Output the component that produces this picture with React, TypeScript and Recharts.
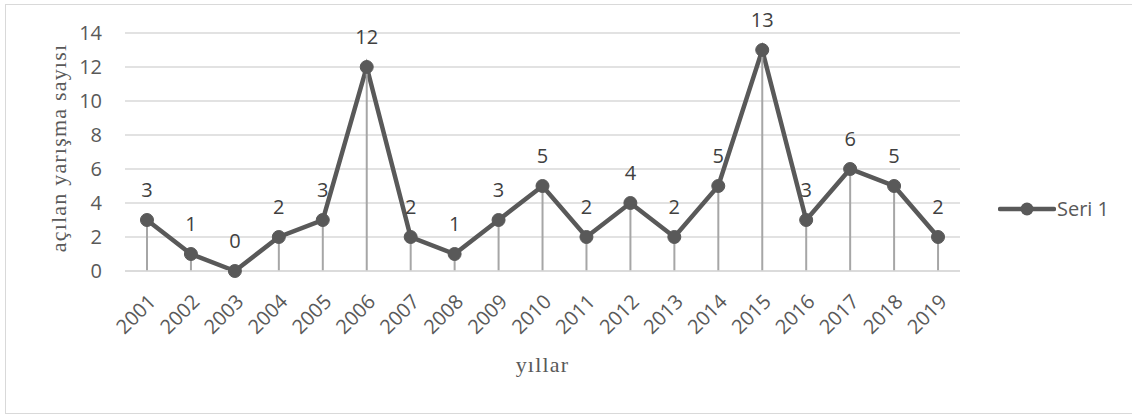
import React from 'react';
import { ComposedChart, Line, Bar, XAxis, YAxis, CartesianGrid, LabelList, Label } from 'recharts';

const years = ['2001', '2002', '2003', '2004', '2005', '2006', '2007', '2008', '2009', '2010', '2011', '2012', '2013', '2014', '2015', '2016', '2017', '2018', '2019'];
const values = [3, 1, 0, 2, 3, 12, 2, 1, 3, 5, 2, 4, 2, 5, 13, 3, 6, 5, 2];
const yTicks = [0, 2, 4, 6, 8, 10, 12, 14];
const seriesName = 'Seri 1';
const xTitle = 'yıllar';
const yTitle = 'açılan yarışma sayısı';

const data = years.map((y, i) => ({ year: y, value: values[i] }));

const SANS = '"Open Sans", sans-serif';
const SERIF = '"Liberation Serif", "Times New Roman", serif';
const TEXT = '#595959';

const XTick = (props: any) => {
  const { x, y, payload } = props;
  return (
    <g transform={`translate(${x + 10},${y + 32})`}>
      <text textAnchor="end" transform="rotate(-45)" fill={TEXT} fontSize={20} fontFamily={SANS}>
        {payload.value}
      </text>
    </g>
  );
};

const YTitle = (props: any) => {
  const vb = props.viewBox || { x: 0, y: 0, width: 0, height: 0 };
  const cx = vb.x + 58;
  const cy = vb.y + vb.height / 2 - 4;
  return (
    <text
      x={cx}
      y={cy}
      transform={`rotate(-90, ${cx}, ${cy})`}
      textAnchor="middle"
      dy="0.35em"
      fill={TEXT}
      fontSize={22}
      letterSpacing={1.2}
      fontFamily={SERIF}
    >
      {yTitle}
    </text>
  );
};

const XTitle = (props: any) => {
  const vb = props.viewBox || { x: 0, y: 0, width: 0, height: 0 };
  const cx = vb.x + vb.width / 2;
  return (
    <text x={cx} y={372} textAnchor="middle" fill={TEXT} fontSize={22} letterSpacing={1.2} fontFamily={SERIF}>
      {xTitle}
    </text>
  );
};

const LegendBox = () => (
  <div style={{ position: 'absolute', left: 998, top: 197, display: 'flex', alignItems: 'center' }}>
    <svg width={58} height={24} style={{ display: 'block' }}>
      <line x1={2} y1={12} x2={56} y2={12} stroke="#595959" strokeWidth={4.5} strokeLinecap="round" />
      <circle cx={29} cy={12} r={6.5} fill="#595959" />
    </svg>
    <span style={{ fontFamily: SANS, fontSize: 20, color: TEXT, marginLeft: 1, lineHeight: '24px' }}>{seriesName}</span>
  </div>
);

export default function App() {
  return (
    <div style={{ position: 'absolute', left: 0, top: 0, width: 1132, height: 414, background: '#fff', overflow: 'hidden' }}>
      <div
        style={{
          position: 'absolute',
          left: 5,
          top: 4,
          width: 1160,
          height: 410,
          boxSizing: 'border-box',
          border: '1.5px solid #d9d9d9',
        }}
      />
      <div style={{ position: 'absolute', left: 0, top: 0 }}>
        <ComposedChart width={1132} height={414} data={data} margin={{ top: 33, right: 172, left: 0, bottom: 28 }}>
          <CartesianGrid vertical={false} stroke="#d9d9d9" strokeWidth={1.5} />
          <XAxis
            dataKey="year"
            height={115}
            tickLine={false}
            tickSize={0}
            tickMargin={0}
            axisLine={{ stroke: '#d9d9d9', strokeWidth: 1.5 }}
            tick={<XTick />}
            interval={0}
          >
            <Label content={<XTitle />} />
          </XAxis>
          <YAxis
            width={125}
            domain={[0, 14]}
            ticks={yTicks}
            axisLine={false}
            tickLine={false}
            tickSize={6}
            tickMargin={17}
            tick={{ fill: TEXT, fontSize: 20, fontFamily: SANS }}
          >
            <Label content={<YTitle />} />
          </YAxis>
          <Line
            dataKey="value"
            name={seriesName}
            stroke="#595959"
            strokeWidth={4.5}
            dot={{ r: 6.5, fill: '#595959', stroke: '#595959', strokeWidth: 1 }}
            activeDot={false}
            isAnimationActive={false}
          >
            <LabelList dataKey="value" position="top" offset={23} fill="#404040" fontSize={20} fontFamily={SANS} />
          </Line>
          <Bar dataKey="value" barSize={2} fill="#a6a6a6" isAnimationActive={false} legendType="none" {...({ zIndex: 450 } as any)} />
        </ComposedChart>
      </div>
      <LegendBox />
    </div>
  );
}
